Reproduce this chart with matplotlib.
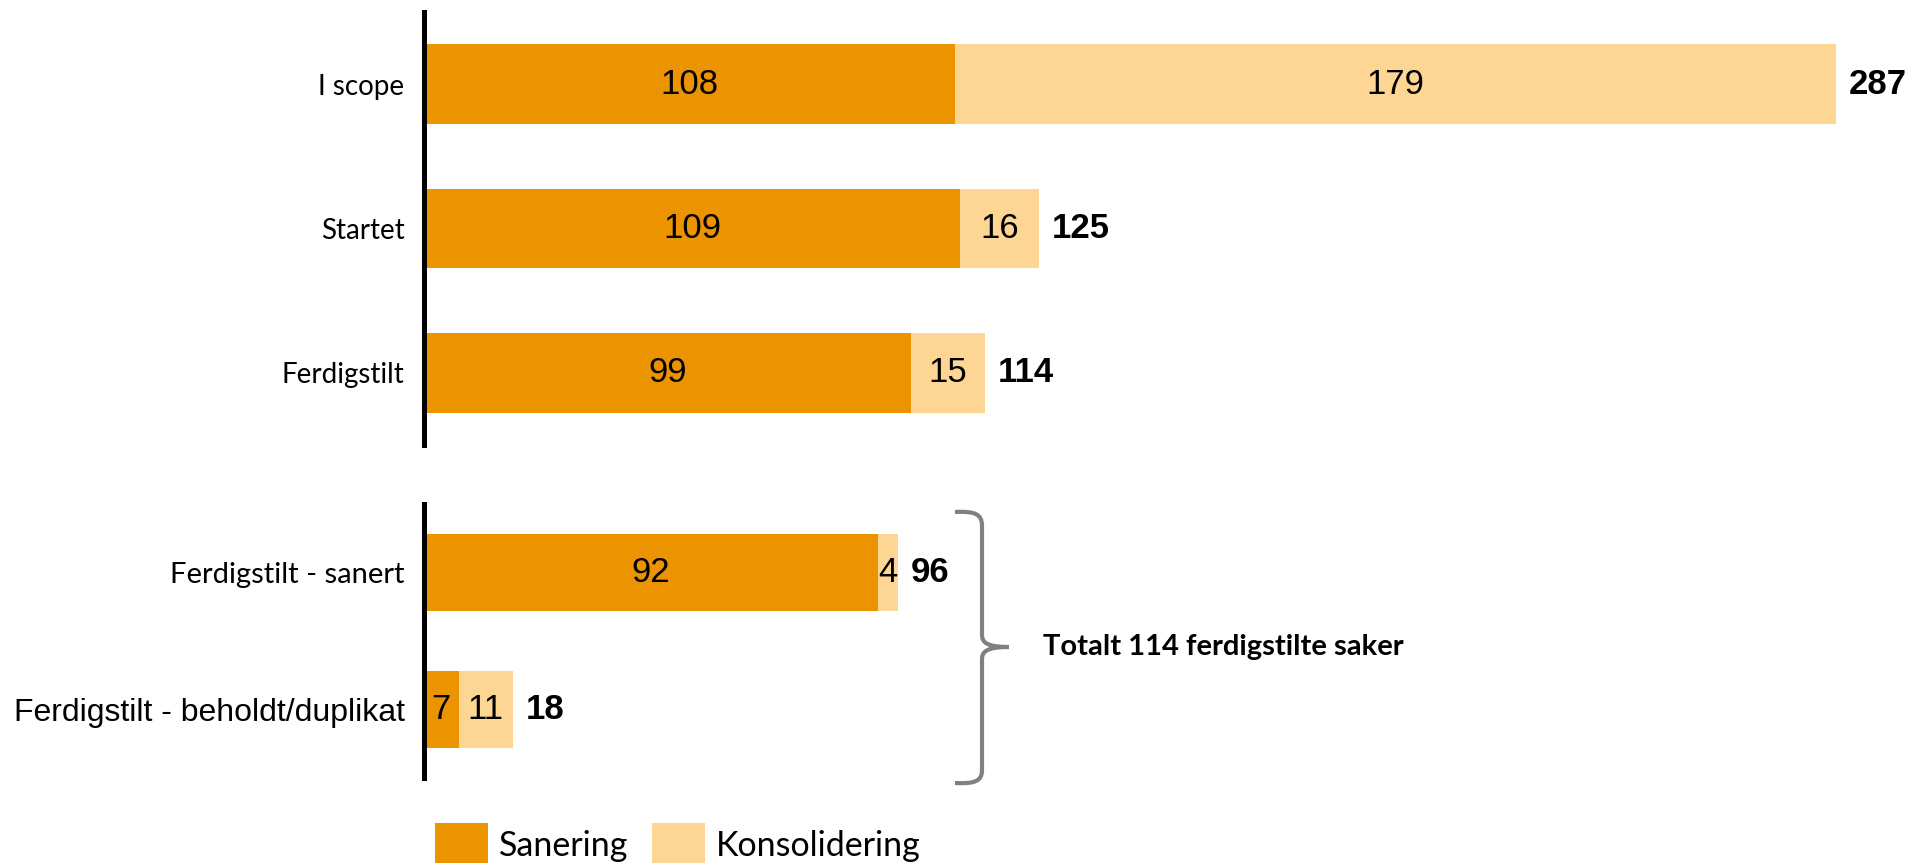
import matplotlib
matplotlib.use("Agg")
import matplotlib.pyplot as plt
from matplotlib.patches import Rectangle, PathPatch
from matplotlib.path import Path

# data
cats_top = ["I scope", "Startet", "Ferdigstilt"]
san_top = [108, 109, 99]
kons_top = [179, 16, 15]

cats_bot = ["Ferdigstilt - sanert", "Ferdigstilt - beholdt/duplikat"]
san_bot = [92, 7]
kons_bot = [4, 11]

series_names = ["Sanering", "Konsolidering"]
brace_text = "Totalt 114 ferdigstilte saker"

ORANGE = "#EC9300"
LIGHT = "#FED694"
W, H = 1908, 863
DPI = 100

fig = plt.figure(figsize=(W / DPI, H / DPI), dpi=DPI)


def px_axes(left, top, right, bottom):
    # axes box given in pixel coords, y from top
    return fig.add_axes([left / W, (H - bottom) / H, (right - left) / W, (bottom - top) / H])


def draw_panel(ax, cats, san, kons, bar_h, n, xmax):
    y = list(range(len(cats)))
    ax.barh(y, san, height=bar_h, color=ORANGE, linewidth=0)
    ax.barh(y, kons, left=san, height=bar_h, color=LIGHT, linewidth=0)
    ax.set_xlim(0, xmax)
    ax.set_ylim(n - 0.5, -0.5)
    for s in ["top", "right", "bottom"]:
        ax.spines[s].set_visible(False)
    ax.spines["left"].set_linewidth(3.6)
    ax.spines["left"].set_color("black")
    ax.set_xticks([])
    ax.set_yticks(y)
    ax.set_yticklabels(cats)
    ax.tick_params(axis="y", length=0, pad=14)
    for lbl in ax.get_yticklabels():
        lbl.set_fontfamily("Lato")
        lbl.set_fontsize(20)
    for i in y:
        ax.text(san[i] / 2, i, str(san[i]), ha="center", va="center",
                fontsize=25, family="Liberation Sans", color="black")
        ax.text(san[i] + kons[i] / 2, i, str(kons[i]), ha="center", va="center",
                fontsize=25, family="Liberation Sans", color="black")
        tot = san[i] + kons[i]
        ax.annotate(str(tot), (tot, i), xytext=(9, 0), textcoords="offset points",
                    ha="left", va="center", fontsize=25, fontweight="bold",
                    family="Liberation Sans", color="black")


ax1 = px_axes(424, 12, 1900, 445)
draw_panel(ax1, cats_top, san_top, kons_top, 0.554, 3, 300)

ax2 = px_axes(424, 504, 1900, 778)
draw_panel(ax2, cats_bot, san_bot, kons_bot, 0.56, 2, 299)
ax2.get_yticklabels()[0].set_fontsize(21)
ax2.get_yticklabels()[1].set_fontfamily("Liberation Sans")
ax2.get_yticklabels()[1].set_fontsize(23)

# overlay in pixel space for brace and legend
ov = fig.add_axes([0, 0, 1, 1])
ov.set_xlim(0, W)
ov.set_ylim(H, 0)
ov.axis("off")

verts = [(955, 512), (975, 511), (982, 514), (982, 526),
         (982, 635),
         (982, 643), (988, 647), (1009, 647),
         (1009, 647),
         (988, 647), (982, 651), (982, 659),
         (982, 770),
         (982, 781), (975, 784), (955, 783)]
codes = [Path.MOVETO, Path.CURVE4, Path.CURVE4, Path.CURVE4,
         Path.LINETO,
         Path.CURVE4, Path.CURVE4, Path.CURVE4,
         Path.MOVETO,
         Path.CURVE4, Path.CURVE4, Path.CURVE4,
         Path.LINETO,
         Path.CURVE4, Path.CURVE4, Path.CURVE4]
ov.add_patch(PathPatch(Path(verts, codes), fill=False, edgecolor="#808080",
                       linewidth=3, capstyle="butt"))
ov.text(1043, 647, brace_text, ha="left", va="center", fontsize=21,
        fontweight="bold", family="Lato", color="black")

# legend (runs off the bottom edge like the original)
for x0, col, name in [(435, ORANGE, series_names[0]), (652, LIGHT, series_names[1])]:
    ov.add_patch(Rectangle((x0, 823), 53, 60, color=col, linewidth=0))
    ov.text(x0 + 64, 856, name, ha="left", va="baseline", fontsize=24.5,
            family="Lato", color="black")

fig.savefig("out.png", dpi=DPI)
